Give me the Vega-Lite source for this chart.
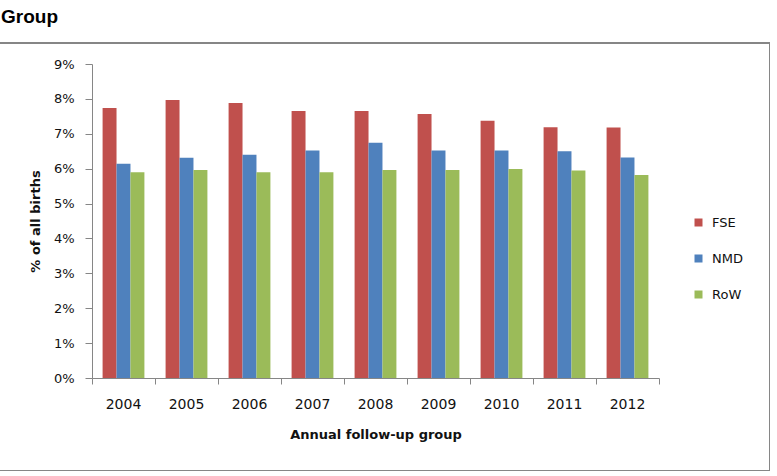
{
  "$schema": "https://vega.github.io/schema/vega-lite/v6.json",
  "width": 772,
  "height": 428,
  "autosize": {"type": "none"},
  "padding": {"left": -2, "top": 43, "right": 0, "bottom": 0},
  "background": "white",
  "title": {"text": "Group", "anchor": "start", "frame": "group", "dx": 3, "font": "Liberation Sans", "fontSize": 19, "fontWeight": "bold", "color": "#000000", "offset": 16},
  "data": {
    "values": [
      {"year": "2004", "group": "FSE", "value": 0.0774},
      {"year": "2004", "group": "NMD", "value": 0.0614},
      {"year": "2004", "group": "RoW", "value": 0.0590},
      {"year": "2005", "group": "FSE", "value": 0.0797},
      {"year": "2005", "group": "NMD", "value": 0.0631},
      {"year": "2005", "group": "RoW", "value": 0.0596},
      {"year": "2006", "group": "FSE", "value": 0.0788},
      {"year": "2006", "group": "NMD", "value": 0.0640},
      {"year": "2006", "group": "RoW", "value": 0.0590},
      {"year": "2007", "group": "FSE", "value": 0.0765},
      {"year": "2007", "group": "NMD", "value": 0.0652},
      {"year": "2007", "group": "RoW", "value": 0.0590},
      {"year": "2008", "group": "FSE", "value": 0.0765},
      {"year": "2008", "group": "NMD", "value": 0.0674},
      {"year": "2008", "group": "RoW", "value": 0.0596},
      {"year": "2009", "group": "FSE", "value": 0.0757},
      {"year": "2009", "group": "NMD", "value": 0.0652},
      {"year": "2009", "group": "RoW", "value": 0.0596},
      {"year": "2010", "group": "FSE", "value": 0.0737},
      {"year": "2010", "group": "NMD", "value": 0.0652},
      {"year": "2010", "group": "RoW", "value": 0.0599},
      {"year": "2011", "group": "FSE", "value": 0.0719},
      {"year": "2011", "group": "NMD", "value": 0.0650},
      {"year": "2011", "group": "RoW", "value": 0.0595},
      {"year": "2012", "group": "FSE", "value": 0.0718},
      {"year": "2012", "group": "NMD", "value": 0.0632},
      {"year": "2012", "group": "RoW", "value": 0.0582}
    ]
  },
  "mark": {"type": "bar"},
  "encoding": {
    "x": {
      "field": "year",
      "type": "nominal",
      "scale": {"range": [94, 661], "paddingInner": 0, "paddingOuter": 0},
      "axis": {
        "title": "Annual follow-up group",
        "offset": -93,
        "labelAngle": 0,
        "bandPosition": 1,
        "tickExtra": true,
        "tickSize": 6,
        "tickColor": "#868686",
        "domainColor": "#868686",
        "labelFont": "DejaVu Sans",
        "labelFontSize": 14,
        "labelColor": "#111111",
        "labelPadding": 13,
        "titleFont": "DejaVu Sans",
        "titleFontSize": 13,
        "titleFontWeight": "bold",
        "titleColor": "#111111",
        "titlePadding": 17
      }
    },
    "xOffset": {
      "field": "group",
      "type": "nominal",
      "sort": ["FSE", "NMD", "RoW"],
      "scale": {"paddingInner": 0, "paddingOuter": 0.76}
    },
    "y": {
      "field": "value",
      "type": "quantitative",
      "scale": {"domain": [0, 0.09], "range": [335, 21], "nice": false, "zero": true},
      "axis": {
        "title": "% of all births",
        "offset": -94,
        "values": [0, 0.01, 0.02, 0.03, 0.04, 0.05, 0.06, 0.07, 0.08, 0.09],
        "format": ".0%",
        "grid": false,
        "tickSize": 7,
        "tickColor": "#868686",
        "domainColor": "#868686",
        "labelFont": "DejaVu Sans",
        "labelFontSize": 13,
        "labelColor": "#111111",
        "labelPadding": 11,
        "titleFont": "DejaVu Sans",
        "titleFontSize": 13,
        "titleFontWeight": "bold",
        "titleColor": "#111111",
        "titlePadding": 11
      }
    },
    "color": {
      "field": "group",
      "type": "nominal",
      "scale": {"domain": ["FSE", "NMD", "RoW"], "range": ["#C0504D", "#4F81BD", "#9BBB59"]},
      "legend": {
        "title": null,
        "orient": "none",
        "legendX": 694,
        "legendY": 173,
        "padding": 0,
        "symbolType": "square",
        "symbolSize": 64,
        "symbolStrokeWidth": 0,
        "labelFont": "DejaVu Sans",
        "labelFontSize": 13,
        "labelColor": "#111111",
        "labelOffset": 7,
        "rowPadding": 22
      }
    }
  },
  "config": {
    "view": {"stroke": "#868686", "strokeWidth": 2}
  }
}
